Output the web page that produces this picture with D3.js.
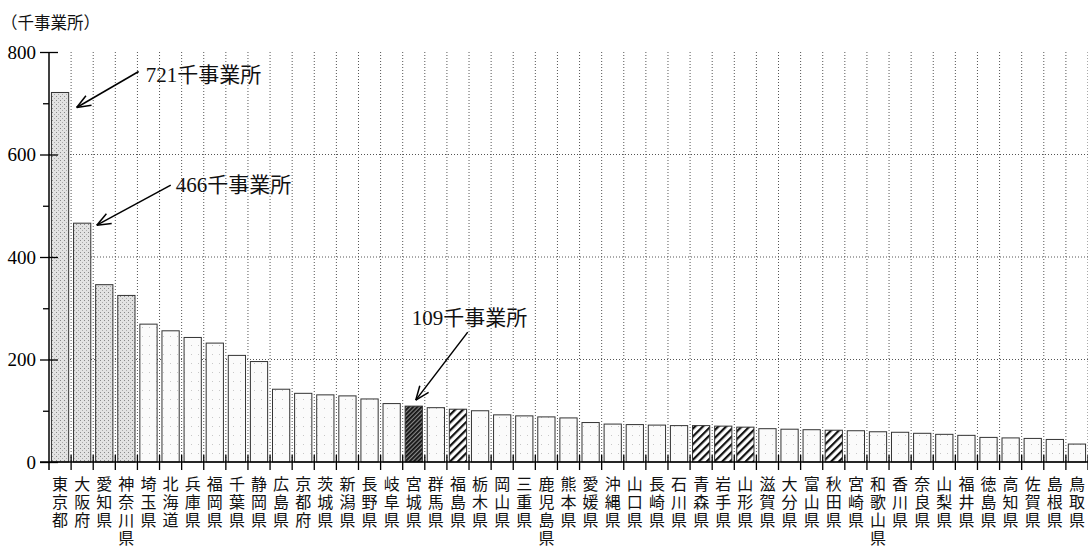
<!DOCTYPE html>
<html><head><meta charset="utf-8">
<script src="https://cdn.jsdelivr.net/npm/d3@7"></script>
<style>body{margin:0;background:#fff}svg{display:block}</style>
</head><body><svg id="c" width="1088" height="547"></svg>
<script>
// ---- data ----
const prefectures = ["東京都","大阪府","愛知県","神奈川県","埼玉県","北海道","兵庫県","福岡県","千葉県","静岡県","広島県","京都府","茨城県","新潟県","長野県","岐阜県","宮城県","群馬県","福島県","栃木県","岡山県","三重県","鹿児島県","熊本県","愛媛県","沖縄県","山口県","長崎県","石川県","青森県","岩手県","山形県","滋賀県","大分県","富山県","秋田県","宮崎県","和歌山県","香川県","奈良県","山梨県","福井県","徳島県","高知県","佐賀県","島根県","鳥取県"];
const values = [721,466,346,325,269,256,243,232,208,196,142,134,131,129,123,114,109,106,103,100,92,90,88,86,77,74,73,72,71,71,70,68,65,64,63,62,61,59,58,56,54,52,48,47,46,44,35];
const fillTypes = ["stipple","stipple","stipple","stipple","plain","plain","plain","plain","plain","plain","plain","plain","plain","plain","plain","plain","dense","plain","hatch","plain","plain","plain","plain","plain","plain","plain","plain","plain","plain","hatch","hatch","hatch","plain","plain","plain","hatch","plain","plain","plain","plain","plain","plain","plain","plain","plain","plain","plain"];
const yTicks = [0,200,400,600,800];
const yMinorTicks = [100,300,500,700];
const yGrid = [200,400,600];
const unitLabel = "（千事業所）";
const annotations = [
  {name:"東京都", text:"721千事業所"},
  {name:"大阪府", text:"466千事業所"},
  {name:"宮城県", text:"109千事業所"}
];

(function(){
// ---- layout ----
const svg = d3.select("#c");
const pLeft = 49, pRight = 1088, pTop = 52, pBottom = 462;
const x = d3.scaleBand().domain(prefectures).range([pLeft,pRight]).paddingInner(0.22).paddingOuter(0.11);
const y = d3.scaleLinear().domain([0,800]).range([pBottom,pTop]);
const bw = x.bandwidth(), step = x.step(), gap = step - bw;
const numFont = "'Liberation Serif','Noto Sans CJK JP',serif";
const cjkFont = "'Noto Sans CJK JP',sans-serif";
const labelFont = "'Liberation Sans','Noto Sans CJK JP',sans-serif";

// patterns
const defs = svg.append("defs");
const pSt = defs.append("pattern").attr("id","stipple").attr("width",4).attr("height",4).attr("patternUnits","userSpaceOnUse");
pSt.append("rect").attr("width",4).attr("height",4).attr("fill","#e2e2e2");
pSt.append("rect").attr("x",0).attr("y",0).attr("width",1).attr("height",1).attr("fill","#888");
pSt.append("rect").attr("x",2).attr("y",2).attr("width",1).attr("height",1).attr("fill","#aaa");
const pPl = defs.append("pattern").attr("id","plain").attr("width",7).attr("height",9).attr("patternUnits","userSpaceOnUse");
pPl.append("rect").attr("width",7).attr("height",9).attr("fill","#fbfbfb");
pPl.append("rect").attr("x",2).attr("y",3).attr("width",1).attr("height",1).attr("fill","#c8c8c8");
const pH = defs.append("pattern").attr("id","hatch").attr("width",5.5).attr("height",5.5).attr("patternUnits","userSpaceOnUse").attr("patternTransform","rotate(45)");
pH.append("rect").attr("width",5.5).attr("height",5.5).attr("fill","#fff");
pH.append("rect").attr("x",0).attr("y",0).attr("width",2.2).attr("height",5.5).attr("fill","#111");
const pD = defs.append("pattern").attr("id","dense").attr("width",3).attr("height",3).attr("patternUnits","userSpaceOnUse").attr("patternTransform","rotate(45)");
pD.append("rect").attr("width",3).attr("height",3).attr("fill","#888");
pD.append("rect").attr("x",0).attr("y",0).attr("width",1.8).attr("height",3).attr("fill","#111");

// grid
const g = svg.append("g");
g.selectAll(".hg").data(yGrid).enter().append("line")
  .attr("x1",pLeft).attr("x2",pRight).attr("y1",d=>y(d)).attr("y2",d=>y(d))
  .attr("stroke","#555").attr("stroke-width",1).attr("stroke-dasharray","1,2");
const boundaries = prefectures.map(p => x(p) - gap/2).concat([x(prefectures[prefectures.length-1]) + bw + gap/2]);
g.selectAll(".vg").data(boundaries.slice(1)).enter().append("line")
  .attr("x1",d=>d).attr("x2",d=>d).attr("y1",y(800)).attr("y2",pBottom)
  .attr("stroke","#555").attr("stroke-width",1).attr("stroke-dasharray","1,2");

// bars
svg.append("g").selectAll("rect").data(prefectures).enter().append("rect")
  .attr("x",d=>x(d)).attr("width",bw)
  .attr("y",(d,i)=>y(values[i])).attr("height",(d,i)=>pBottom - y(values[i]))
  .attr("fill",(d,i)=>"url(#"+fillTypes[i]+")")
  .attr("stroke","#333").attr("stroke-width",1);

// y axis
const yAxis = svg.append("g").attr("transform",`translate(${pLeft},0)`)
  .call(d3.axisLeft(y).tickValues(yTicks).tickSizeInner(9).tickSizeOuter(0).tickPadding(4).tickFormat(d3.format("d")));
yAxis.select(".domain").remove();
yAxis.selectAll(".tick line").attr("x2",9).attr("x1",-9).attr("stroke","#000").attr("stroke-width",1.3);
yAxis.selectAll(".tick text").attr("font-family",numFont).attr("font-size",19).attr("fill","#000");
svg.append("g").attr("transform",`translate(${pLeft},0)`)
  .call(d3.axisLeft(y).tickValues(yMinorTicks).tickSize(6).tickFormat(""))
  .call(s=>s.select(".domain").remove())
  .selectAll(".tick line").attr("stroke","#000").attr("stroke-width",1.3);
svg.append("line").attr("x1",pLeft).attr("x2",pLeft).attr("y1",pTop).attr("y2",pBottom+8).attr("stroke","#000").attr("stroke-width",1.5);

// x axis
svg.append("line").attr("x1",pLeft-9).attr("x2",pRight).attr("y1",pBottom).attr("y2",pBottom).attr("stroke","#000").attr("stroke-width",1.5);
svg.append("g").selectAll("line").data(boundaries.slice(1)).enter().append("line")
  .attr("x1",d=>d).attr("x2",d=>d).attr("y1",pBottom-7).attr("y2",pBottom+8)
  .attr("stroke","#000").attr("stroke-width",1.3);

// x labels: characters stacked vertically, one text per character
const xl = svg.append("g").attr("font-family",labelFont).attr("font-size",16).attr("fill","#111").attr("text-anchor","middle");
prefectures.forEach(p=>{
  Array.from(p).forEach((ch,k)=>{
    xl.append("text").attr("x",x(p)+bw/2).attr("y",490 + k*18).text(ch);
  });
});

// unit label
svg.append("text").attr("x",1).attr("y",29).attr("font-family",cjkFont).attr("font-size",16.5).attr("fill","#111").text(unitLabel);

// annotations
const annoLayout = {
  "東京都": {tip:(p,v)=>[x(p)+bw+8, y(v)+15], tail:[62,-36], text:[7,11]},
  "大阪府": {tip:(p,v)=>[x(p)+bw+6, y(v)+2], tail:[74,-40], text:[5,7]},
  "宮城県": {tip:(p,v)=>[x(p)+bw/2+2, y(v)-6], tail:[52,-68], text:[-56,-7]}
};
const ag = svg.append("g");
annotations.forEach(a=>{
  const i = prefectures.indexOf(a.name);
  const L = annoLayout[a.name];
  const [tx,ty] = L.tip(a.name, values[i]);
  const sx = tx + L.tail[0], sy = ty + L.tail[1];
  ag.append("line").attr("x1",sx).attr("y1",sy).attr("x2",tx).attr("y2",ty).attr("stroke","#000").attr("stroke-width",1.5);
  const ang = Math.atan2(sy-ty, sx-tx), len = 15, spread = 0.38;
  [ang-spread, ang+spread].forEach(b=>{
    ag.append("line").attr("x1",tx).attr("y1",ty).attr("x2",tx+len*Math.cos(b)).attr("y2",ty+len*Math.sin(b)).attr("stroke","#000").attr("stroke-width",1.5);
  });
  ag.append("text").attr("x",sx+L.text[0]).attr("y",sy+L.text[1])
    .attr("font-family",numFont).attr("font-size",21).attr("fill","#111").text(a.text);
});
})();
</script></body></html>
